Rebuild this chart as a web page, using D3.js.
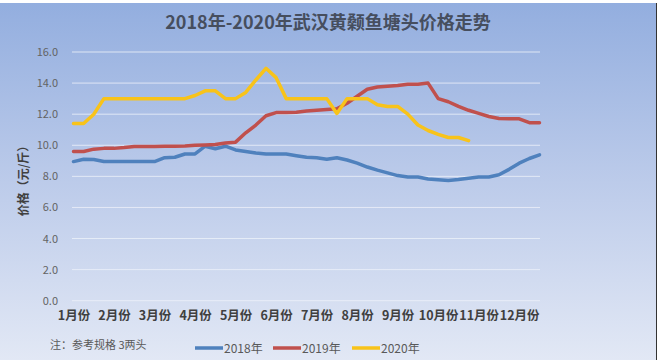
<!DOCTYPE html>
<html><head><meta charset="utf-8">
<script src="https://cdn.jsdelivr.net/npm/d3@7/dist/d3.min.js"></script>
<style>html,body{margin:0;padding:0;background:#fff;}svg{display:block;}</style>
</head><body>
<script>
const months = ["1月份","2月份","3月份","4月份","5月份","6月份","7月份","8月份","9月份","10月份","11月份","12月份"];
const yTicks = [0,2,4,6,8,10,12,14,16];
const seriesNames = ["2018年","2019年","2020年"];
const seriesColors = ["#4f81bd","#c0504d","#f8c31a"];
const v2018 = [8.95,9.1,9.08,8.95,8.95,8.95,8.95,8.95,8.95,9.2,9.23,9.44,9.44,9.94,9.78,9.94,9.7,9.6,9.5,9.44,9.44,9.44,9.33,9.23,9.2,9.1,9.2,9.05,8.85,8.6,8.4,8.22,8.05,7.96,7.96,7.83,7.78,7.74,7.8,7.88,7.96,7.96,8.1,8.45,8.85,9.15,9.38];
const v2019 = [9.6,9.6,9.75,9.8,9.8,9.85,9.92,9.92,9.92,9.93,9.94,9.95,10.0,10.02,10.05,10.15,10.2,10.8,11.3,11.9,12.1,12.1,12.12,12.2,12.25,12.3,12.35,12.7,13.15,13.6,13.75,13.8,13.85,13.93,13.93,14.0,13.0,12.8,12.5,12.25,12.05,11.85,11.72,11.7,11.7,11.45,11.45];
const v2020 = [11.4,11.4,12.0,13.0,13.0,13.0,13.0,13.0,13.0,13.0,13.0,13.0,13.2,13.5,13.5,13.0,13.0,13.4,14.2,14.95,14.35,13.0,13.0,13.0,13.0,13.0,12.05,13.0,13.0,13.0,12.6,12.5,12.5,12.0,11.3,10.95,10.7,10.5,10.5,10.3];
const pointsPerMonth = 4;
const series = [v2018, v2019, v2020];

const W = 660, H = 360;
const svg = d3.select("body").append("svg").attr("width", W).attr("height", H);
const defs = svg.append("defs");
const grad = defs.append("linearGradient").attr("id","bg").attr("x1",0).attr("y1",0).attr("x2",0).attr("y2",1);
grad.append("stop").attr("offset","0%").attr("stop-color","#93aedf");
grad.append("stop").attr("offset","50%").attr("stop-color","#bccbea");
grad.append("stop").attr("offset","100%").attr("stop-color","#e2e8f5");
svg.append("rect").attr("x",0).attr("y",3).attr("width",656).attr("height",H-3).attr("fill","url(#bg)");
svg.append("line").attr("x1",656.5).attr("x2",656.5).attr("y1",3).attr("y2",H).attr("stroke","#333").attr("stroke-width",1);

const fontCJK = "'Noto Sans CJK SC','Noto Sans',sans-serif";
const nPts = v2018.length;
const x = d3.scaleLinear().domain([0, nPts-1]).range([73.5, 539.5]);
const y = d3.scaleLinear().domain([0,16]).range([300.7, 52]);

// gridlines
svg.append("g").selectAll("line").data(yTicks).join("line")
  .attr("x1",72).attr("x2",540).attr("y1",d=>y(d)).attr("y2",d=>y(d))
  .attr("stroke","#eef2fa").attr("stroke-width",1).attr("opacity",0.8);

// y axis
const yAxis = svg.append("g").attr("transform","translate(60,0)")
  .call(d3.axisLeft(y).tickValues(yTicks).tickFormat(d3.format(".1f")).tickSize(0).tickPadding(2));
yAxis.select(".domain").remove();
yAxis.selectAll("text").attr("font-family",fontCJK).attr("font-size",11).attr("fill","#636363");

// x axis labels
const monthIdx = months.map((m,i)=>i*pointsPerMonth);
const xAxis = svg.append("g").attr("transform","translate(0,309)")
  .call(d3.axisBottom(x).tickValues(monthIdx).tickFormat((d,i)=>months[i]).tickSize(0).tickPadding(2));
xAxis.select(".domain").remove();
xAxis.selectAll("text").attr("font-family",fontCJK).attr("font-size",12.5).attr("font-weight","bold").attr("fill","#404040");

// lines
const line = d3.line().x((d,i)=>x(i)).y(d=>y(d)).curve(d3.curveLinear);
svg.append("g").selectAll("path").data(series).join("path")
  .attr("d", d=>line(d)).attr("fill","none")
  .attr("stroke",(d,i)=>seriesColors[i]).attr("stroke-width",3.5)
  .attr("stroke-linejoin","round").attr("stroke-linecap","round");

// title
svg.append("text").attr("x",328).attr("y",29).attr("text-anchor","middle")
  .attr("font-family",fontCJK).attr("font-size",18).attr("font-weight","bold").attr("fill","#464e5e")
  .text("2018年-2020年武汉黄颡鱼塘头价格走势");

// y axis title
svg.append("text").attr("transform","translate(28,178) rotate(-90)").attr("text-anchor","middle")
  .attr("font-family",fontCJK).attr("font-size",12).attr("font-weight","bold").attr("fill","#404040")
  .text("价格（元/斤）");

// note
svg.append("text").attr("x",50).attr("y",349)
  .attr("font-family",fontCJK).attr("font-size",11).attr("fill","#595959")
  .text("注：参考规格  3两头");

// legend
const legX = [195, 273, 352];
const leg = svg.append("g").selectAll("g").data(seriesNames).join("g")
  .attr("transform",(d,i)=>`translate(${legX[i]},348)`);
leg.append("line").attr("x1",0).attr("x2",28).attr("y1",0).attr("y2",0)
  .attr("stroke",(d,i)=>seriesColors[i]).attr("stroke-width",3.5);
leg.append("text").attr("x",29).attr("y",4.5)
  .attr("font-family",fontCJK).attr("font-size",12).attr("fill","#595959").text(d=>d);
</script>
</body></html>
